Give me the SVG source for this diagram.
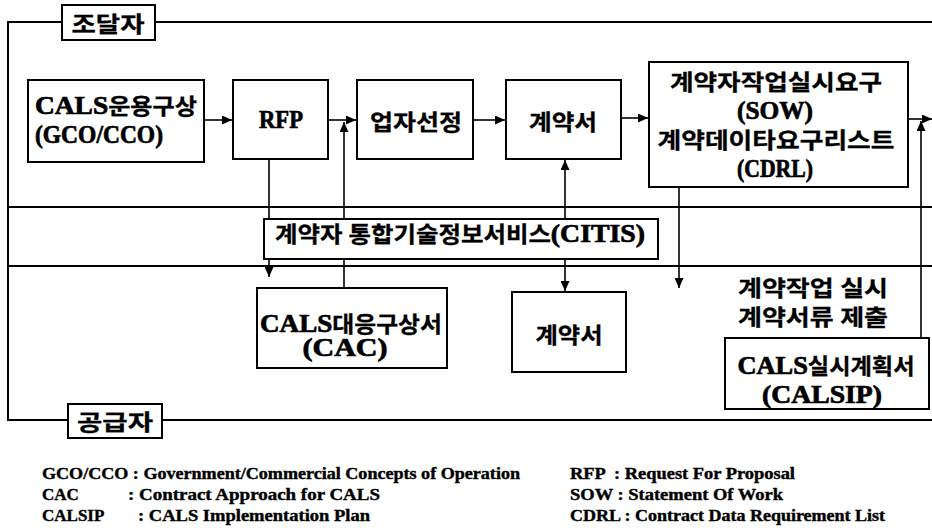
<svg xmlns="http://www.w3.org/2000/svg" width="932" height="531" viewBox="0 0 932 531">
<defs>
<style>
.t{font-family:'Liberation Serif','Noto Sans CJK KR',serif;font-weight:bold;font-size:22px;fill:#000;text-anchor:middle;stroke:#000;stroke-width:0.3}
.s{text-anchor:start}
.L{font-family:'Liberation Serif',serif;font-weight:bold;font-size:25px;stroke:#000;stroke-width:0.7}
.lg{font-family:'Liberation Serif',serif;font-weight:bold;font-size:17px;fill:#000;stroke:#000;stroke-width:0.4}
.box{fill:#fff;stroke:#000;stroke-width:2}
.ln{stroke:#000;stroke-width:2;fill:none}
.cn{stroke:#000;stroke-width:1.6;fill:none;marker-end:url(#ah)}
.dbl{marker-start:url(#ah)}
</style>
<marker id="ah" markerUnits="userSpaceOnUse" markerWidth="11" markerHeight="9" refX="10" refY="4.5" orient="auto-start-reverse" viewBox="0 0 11 9">
<path d="M0,0 L10,4.5 L0,9 z" fill="#000"/>
</marker>
</defs>
<rect width="932" height="531" fill="#fff"/>

<g id="frame">
<path class="ln" d="M62 22 H8 V420 H68 M155 22 H932 M162 420 H932"/>
<path class="ln" d="M8 207 H932 M8 266 H932"/>
</g>

<g id="connectors">
<path class="cn" d="M204 120 H232"/>
<path class="cn" d="M328 120 H356"/>
<path class="cn" d="M344 288 V122"/>
<path class="cn" d="M269 159 V277"/>
<path class="cn" d="M473 120 H505"/>
<path class="cn" d="M621 118 H648"/>
<path class="cn dbl" d="M565 160 V291"/>
<path class="cn" d="M679 187 V288"/>
<path class="cn" d="M908 119 H932"/>
<path class="cn" d="M921 338 V121"/>
</g>

<g id="n-buyer">
<rect class="box" x="62" y="5" width="93" height="35"/>
<text class="t" x="108" y="32" textLength="73" lengthAdjust="spacingAndGlyphs">조달자</text>
</g>
<g id="n-supplier">
<rect class="box" x="68" y="404" width="94" height="34"/>
<text class="t" x="115" y="430" textLength="76" lengthAdjust="spacingAndGlyphs">공급자</text>
</g>

<g id="n-gco">
<rect class="box" x="28" y="80" width="176" height="82"/>
<text class="t s" x="35" y="114" textLength="162" lengthAdjust="spacingAndGlyphs"><tspan class="L">CALS</tspan>운용구상</text>
<text class="t s L" x="35" y="143" textLength="128" lengthAdjust="spacingAndGlyphs">(GCO/CCO)</text>
</g>
<g id="n-rfp">
<rect class="box" x="233" y="80" width="95" height="79"/>
<text class="t L" x="281" y="128" textLength="44" lengthAdjust="spacingAndGlyphs">RFP</text>
</g>
<g id="n-select">
<rect class="box" x="357" y="80" width="116" height="79"/>
<text class="t" x="416" y="130" textLength="92" lengthAdjust="spacingAndGlyphs">업자선정</text>
</g>
<g id="n-contract1">
<rect class="box" x="506" y="80" width="115" height="79"/>
<text class="t" x="563" y="130" textLength="68" lengthAdjust="spacingAndGlyphs">계약서</text>
</g>
<g id="n-sow">
<rect class="box" x="649" y="62" width="259" height="125"/>
<text class="t" x="776" y="90" textLength="212" lengthAdjust="spacingAndGlyphs">계약자작업실시요구</text>
<text class="t L" x="775" y="119" textLength="76" lengthAdjust="spacingAndGlyphs">(SOW)</text>
<text class="t" x="776" y="148" textLength="237" lengthAdjust="spacingAndGlyphs">계약데이타요구리스트</text>
<text class="t L" x="775" y="177" textLength="76" lengthAdjust="spacingAndGlyphs">(CDRL)</text>
</g>
<g id="n-citis">
<rect class="box" x="264" y="219" width="394" height="40"/>
<text class="t" x="460" y="242" textLength="370" lengthAdjust="spacingAndGlyphs">계약자 통합기술정보서비스<tspan class="L">(CITIS)</tspan></text>
</g>
<g id="n-cac">
<rect class="box" x="257" y="288" width="190" height="80"/>
<text class="t" x="351" y="332" textLength="182" lengthAdjust="spacingAndGlyphs"><tspan class="L">CALS</tspan>대응구상서</text>
<text class="t L" x="345" y="356" textLength="85" lengthAdjust="spacingAndGlyphs">(CAC)</text>
</g>
<g id="n-contract2">
<rect class="box" x="512" y="292" width="114" height="80"/>
<text class="t" x="569" y="343" textLength="67" lengthAdjust="spacingAndGlyphs">계약서</text>
</g>
<g id="n-work-label">
<text class="t" x="813" y="296" textLength="150" lengthAdjust="spacingAndGlyphs">계약작업 실시</text>
<text class="t" x="813" y="325" textLength="150" lengthAdjust="spacingAndGlyphs">계약서류 제출</text>
</g>
<g id="n-calsip">
<rect class="box" x="725" y="338" width="204" height="71"/>
<text class="t" x="826" y="374" textLength="177" lengthAdjust="spacingAndGlyphs"><tspan class="L">CALS</tspan>실시계획서</text>
<text class="t L" x="822" y="403" textLength="120" lengthAdjust="spacingAndGlyphs">(CALSIP)</text>
</g>

<g id="legend">
<text class="lg" x="42" y="479" textLength="478" lengthAdjust="spacingAndGlyphs">GCO/CCO : Government/Commercial Concepts of Operation</text>
<text class="lg" x="42" y="500">CAC</text>
<text class="lg" x="128" y="500" textLength="252" lengthAdjust="spacingAndGlyphs">: Contract Approach for CALS</text>
<text class="lg" x="42" y="521">CALSIP</text>
<text class="lg" x="138" y="521" textLength="232" lengthAdjust="spacingAndGlyphs">: CALS Implementation Plan</text>
<text class="lg" x="570" y="479" textLength="225" lengthAdjust="spacingAndGlyphs" xml:space="preserve">RFP  : Request For Proposal</text>
<text class="lg" x="570" y="500" textLength="213" lengthAdjust="spacingAndGlyphs">SOW : Statement Of Work</text>
<text class="lg" x="570" y="521" textLength="315" lengthAdjust="spacingAndGlyphs">CDRL : Contract Data Requirement List</text>
</g>
</svg>
